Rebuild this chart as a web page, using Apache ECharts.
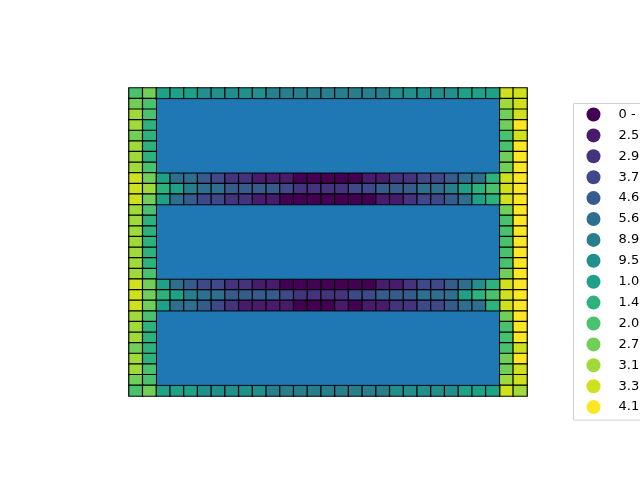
<!DOCTYPE html>
<html lang="en">
<head>
    <meta charset="UTF-8">
    <title>Grid classes</title>
    <script src="https://cdn.jsdelivr.net/npm/echarts@6/dist/echarts.min.js"></script>
    <style>
        * {
            margin: 0;
            padding: 0;
        }

        #chart {
            width: 640px;
            height: 480px;
            background-color: #fff;
        }
    </style>
</head>
<body>
    <div id="chart"></div>

    <script>
        // class index (0-14) of each visible grid cell, 29 x 29 grid
        const nCols = 29;
        const nRows = 29;

        // border rows, columns 2..26
        const topRow = [8, 8, 8, 7, 7, 7, 7, 7, 6, 6, 6, 6, 6, 6, 6, 6, 6, 7, 7, 7, 7, 7, 8, 8, 8];
        const bottomRow = [8, 8, 8, 7, 7, 7, 7, 7, 6, 6, 6, 6, 6, 6, 6, 6, 6, 7, 7, 7, 7, 7, 8, 8, 8];

        // border columns, rows 0..28
        const col0 = [10, 11, 12, 12, 11, 12, 12, 12, 13, 13, 13, 12, 12, 12, 12, 12, 12, 12, 13, 13, 13, 12, 12, 12, 11, 12, 12, 11, 10];
        const col1 = [11, 10, 10, 9, 9, 9, 9, 10, 11, 12, 11, 10, 9, 9, 9, 9, 9, 10, 11, 11, 11, 10, 9, 9, 9, 9, 10, 10, 11];
        const col27 = [13, 12, 11, 11, 10, 10, 11, 11, 13, 13, 13, 11, 10, 10, 10, 10, 10, 11, 13, 13, 13, 11, 10, 10, 10, 11, 11, 12, 13];
        const col28 = [13, 13, 13, 14, 13, 14, 14, 14, 14, 14, 14, 14, 14, 14, 14, 14, 14, 14, 14, 14, 14, 14, 14, 14, 13, 14, 13, 13, 12];

        // strips between the blocks, columns 2..26
        const row8 = [8, 5, 5, 4, 3, 2, 2, 1, 1, 1, 0, 0, 0, 0, 0, 1, 1, 2, 2, 3, 3, 4, 5, 5, 9];
        const row9 = [9, 8, 6, 5, 5, 4, 4, 4, 4, 3, 2, 2, 2, 2, 3, 3, 4, 4, 4, 5, 5, 6, 8, 9, 10];
        const row10 = [8, 5, 4, 3, 3, 2, 2, 1, 1, 0, 0, 0, 0, 0, 0, 0, 1, 1, 2, 3, 3, 4, 5, 8, 9];
        const row18 = [8, 5, 4, 3, 3, 2, 2, 1, 1, 0, 0, 0, 0, 0, 0, 0, 1, 1, 2, 3, 3, 4, 5, 7, 9];
        const row19 = [9, 8, 6, 5, 5, 4, 4, 4, 4, 3, 2, 2, 2, 2, 3, 3, 4, 4, 4, 5, 5, 5, 8, 9, 10];
        const row20 = [8, 5, 5, 4, 3, 2, 1, 1, 1, 1, 0, 0, 0, 1, 0, 1, 1, 2, 2, 3, 3, 4, 5, 5, 9];

        // blocks drawn over the grid: [firstCol, firstRow, lastCol, lastRow]
        const blocks = [
            [2, 1, 26, 7],
            [2, 11, 26, 17],
            [2, 21, 26, 27]
        ];

        // legend labels (class breaks)
        const classLabels = [
            '0 - 2.5e-05',
            '2.5e-05 - 2.9e-05',
            '2.9e-05 - 3.7e-05',
            '3.7e-05 - 4.6e-05',
            '4.6e-05 - 5.6e-05',
            '5.6e-05 - 8.9e-05',
            '8.9e-05 - 9.5e-05',
            '9.5e-05 - 1.0e-04',
            '1.0e-04 - 1.4e-04',
            '1.4e-04 - 2.0e-04',
            '2.0e-04 - 2.7e-04',
            '2.7e-04 - 3.1e-04',
            '3.1e-04 - 3.3e-04',
            '3.3e-04 - 4.1e-04',
            '4.1e-04 - 5.2e-04'
        ];

        // viridis, 15 steps
        const viridis = [
            '#440154', '#481b6d', '#46337e', '#3f4889', '#365c8d',
            '#2e6e8e', '#277f8e', '#21908c', '#1fa187', '#2db27d',
            '#4ac16d', '#71cf57', '#9fda3a', '#cfe11c', '#fde725'
        ];

        // heatmap data [col, row, class]
        const cells = [];
        for (let r = 0; r < nRows; r++) {
            cells.push([0, r, col0[r]]);
            cells.push([1, r, col1[r]]);
            cells.push([27, r, col27[r]]);
            cells.push([28, r, col28[r]]);
        }
        const innerRows = { 0: topRow, 8: row8, 9: row9, 10: row10, 18: row18, 19: row19, 20: row20, 28: bottomRow };
        Object.keys(innerRows).forEach(function (r) {
            innerRows[r].forEach(function (v, i) {
                cells.push([i + 2, Number(r), v]);
            });
        });

        const colNames = [];
        for (let i = 0; i < nCols; i++) colNames.push(String(i));
        const rowNames = [];
        for (let i = 0; i < nRows; i++) rowNames.push(String(i));

        const chart = echarts.init(document.getElementById('chart'));
        const option = {
            animation: false,
            backgroundColor: '#fff',
            textStyle: {
                fontFamily: 'DejaVu Sans'
            },
            grid: {
                left: 129,
                top: 88,
                width: 398,
                height: 308
            },
            xAxis: {
                type: 'category',
                data: colNames,
                show: false
            },
            yAxis: {
                type: 'category',
                data: rowNames,
                inverse: true,
                show: false
            },
            visualMap: {
                type: 'piecewise',
                seriesIndex: 0,
                dimension: 2,
                orient: 'vertical',
                align: 'left',
                inverse: true,
                left: 573,
                top: 103,
                itemSymbol: 'circle',
                itemWidth: 14,
                itemHeight: 14,
                itemGap: 6.9,
                textGap: 18,
                padding: [4, 12, 6, 13],
                borderColor: '#d0d0d0',
                borderWidth: 1,
                backgroundColor: '#fff',
                selectedMode: false,
                hoverLink: false,
                textStyle: {
                    color: '#000',
                    fontSize: 13,
                    fontFamily: 'DejaVu Sans'
                },
                pieces: classLabels.map(function (label, i) {
                    return { value: i, label: label, color: viridis[i] };
                })
            },
            series: [
                {
                    type: 'heatmap',
                    data: cells,
                    itemStyle: {
                        borderColor: '#000',
                        borderWidth: 1.2
                    },
                    emphasis: {
                        disabled: true
                    }
                },
                {
                    type: 'custom',
                    data: blocks,
                    silent: true,
                    encode: {
                        x: [0, 2],
                        y: [1, 3]
                    },
                    renderItem: function (params, api) {
                        const p0 = api.coord([api.value(0), api.value(1)]);
                        const p1 = api.coord([api.value(2), api.value(3)]);
                        const size = api.size([1, 1]);
                        return {
                            type: 'rect',
                            shape: {
                                x: p0[0] - size[0] / 2,
                                y: p0[1] - size[1] / 2,
                                width: p1[0] - p0[0] + size[0],
                                height: p1[1] - p0[1] + size[1]
                            },
                            style: {
                                fill: '#1f77b4',
                                stroke: 'rgba(0, 0, 0, 0.8)',
                                lineWidth: 1
                            }
                        };
                    }
                }
            ]
        };
        chart.setOption(option);
    </script>
</body>
</html>
